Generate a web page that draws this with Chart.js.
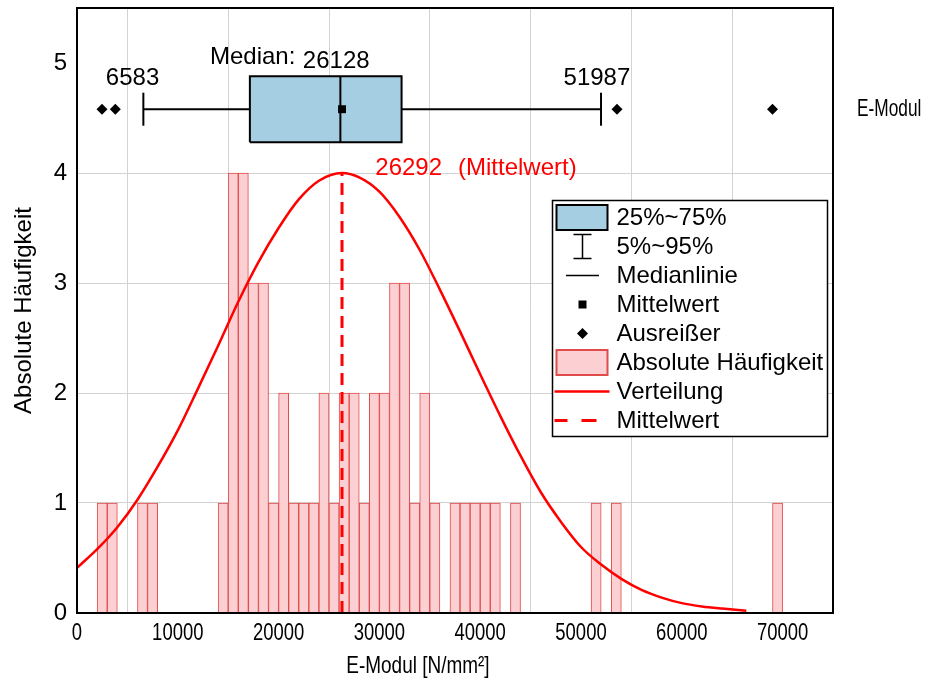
<!DOCTYPE html>
<html>
<head>
<meta charset="utf-8">
<script src="https://cdn.jsdelivr.net/npm/chart.js@4.4.1/dist/chart.umd.min.js"></script>
<style>
  html, body { margin: 0; padding: 0; background: #fff; }
</style>
</head>
<body>
<canvas id="chart" width="948" height="691"></canvas>
<script>
'use strict';

// histogram, 1000 N/mm² wide bins (left edge + count)
const binWidth = 1000;
const binStart = [2000, 3000, 6000, 7000,
  14000, 15000, 16000, 17000, 18000, 19000, 20000, 21000, 22000, 23000, 24000,
  25000, 26000, 27000, 28000, 29000, 30000, 31000, 32000, 33000, 34000, 35000,
  37000, 38000, 39000, 40000, 41000, 43000, 51000, 53000, 69000];
const binCount = [1, 1, 1, 1,
  1, 4, 4, 3, 3, 1, 2, 1, 1, 1, 2,
  1, 2, 2, 1, 2, 2, 3, 3, 1, 2, 1,
  1, 1, 1, 1, 1, 1, 1, 1, 1];

// fitted distribution
const curveX = [0, 2000, 4000, 6000, 8000, 10000, 12000, 14000, 16000, 18000, 20000,
  22000, 24000, 26292, 28000, 30000, 32000, 34000, 36000, 38000, 40000, 42000,
  44000, 46000, 48000, 50000, 52000, 54000, 56000, 58000, 60000, 62000, 64000, 66400];
const curveY = [0.41, 0.58, 0.78, 1.03, 1.33, 1.66, 2.04, 2.43, 2.83, 3.19, 3.50,
  3.76, 3.93, 4.00, 3.96, 3.83, 3.60, 3.30, 2.94, 2.56, 2.17, 1.79,
  1.43, 1.10, 0.83, 0.60, 0.44, 0.31, 0.21, 0.14, 0.09, 0.06, 0.04, 0.02];

// box plot of E-Modul
const boxRow = 4.58;
const boxHalf = 0.3;
const capHalf = 0.15;
const q1 = 17150;
const q3 = 32200;
const median = 26128;
const mean = 26292;
const whiskerLow = 6583;
const whiskerHigh = 51987;
const outliers = [2480, 3800, 53570, 69000];

const xTicks = [0, 10000, 20000, 30000, 40000, 50000, 60000, 70000];
const yTicks = [0, 1, 2, 3, 4, 5];

const legendLabels = ['25%~75%', '5%~95%', 'Medianlinie', 'Mittelwert', 'Ausreißer',
  'Absolute Häufigkeit', 'Verteilung', 'Mittelwert'];

const FONT = '"Liberation Sans", Arial, sans-serif';
const BLUE = '#a6cee3';
const PINK = '#fccfd2';
const PINK_EDGE = '#e04b4b';
const RED = '#ff0000';

const seg = (x1, y1, x2, y2) => [{x: x1, y: y1}, {x: x2, y: y2}];
const blackLine = (data, width) => ({
  type: 'line', data, borderColor: '#000', borderWidth: width || 2,
  pointRadius: 0, fill: false
});

const bars = binStart.map((s, i) => ({x: s + binWidth / 2, y: binCount[i]}));
const curve = curveX.map((x, i) => ({x, y: curveY[i]}));

const datasets = [
  {
    type: 'scatter', data: [{x: mean, y: boxRow}], pointStyle: 'rect',
    pointRadius: 5.6, backgroundColor: '#000', borderColor: '#000', borderWidth: 0
  },
  {
    type: 'scatter', data: outliers.map(x => ({x, y: boxRow})), pointStyle: 'rectRot',
    pointRadius: 5.5, backgroundColor: '#000', borderColor: '#000', borderWidth: 0
  },
  blackLine(seg(median, boxRow - boxHalf, median, boxRow + boxHalf)),
  blackLine([
    {x: q1, y: boxRow - boxHalf}, {x: q1, y: boxRow + boxHalf},
    {x: q3, y: boxRow + boxHalf}, {x: q3, y: boxRow - boxHalf},
    {x: q1, y: boxRow - boxHalf}
  ]),
  {
    type: 'line', data: seg(q1, boxRow + boxHalf, q3, boxRow + boxHalf),
    borderWidth: 0, pointRadius: 0, backgroundColor: BLUE,
    fill: {value: boxRow - boxHalf}
  },
  blackLine(seg(whiskerLow, boxRow, q1, boxRow)),
  blackLine(seg(q3, boxRow, whiskerHigh, boxRow)),
  blackLine(seg(whiskerLow, boxRow - capHalf, whiskerLow, boxRow + capHalf)),
  blackLine(seg(whiskerHigh, boxRow - capHalf, whiskerHigh, boxRow + capHalf)),
  {
    type: 'line', data: seg(mean, 0, mean, 4), borderColor: RED, borderWidth: 3,
    borderDash: [12, 7], pointRadius: 0, fill: false
  },
  {
    type: 'line', data: curve, borderColor: RED, borderWidth: 2.5,
    cubicInterpolationMode: 'monotone', pointRadius: 0, fill: false
  },
  {
    type: 'bar', data: bars, backgroundColor: PINK, borderColor: PINK_EDGE,
    borderWidth: 1, barPercentage: 1, categoryPercentage: 1
  }
];

// text squeezed horizontally (condensed look of the axis lettering)
function narrowText(ctx, text, cx, cy, squeeze) {
  ctx.save();
  ctx.translate(cx, cy);
  ctx.scale(squeeze, 1);
  ctx.fillText(text, 0, 0);
  ctx.restore();
}

// frame, text labels and legend
const decorations = {
  id: 'decorations',
  afterDatasetsDraw(chart) {
    const {ctx, chartArea: a, scales: {x, y}} = chart;
    ctx.save();

    ctx.strokeStyle = '#000';
    ctx.lineWidth = 2;
    ctx.strokeRect(a.left, a.top, a.right - a.left, a.bottom - a.top);

    ctx.font = '24px ' + FONT;
    ctx.fillStyle = '#000';
    ctx.textBaseline = 'alphabetic';
    ctx.textAlign = 'left';
    const capTop = y.getPixelForValue(boxRow + capHalf);
    const boxTop = y.getPixelForValue(boxRow + boxHalf);
    ctx.fillText(String(whiskerLow), x.getPixelForValue(whiskerLow) - 37.5, capTop - 7.7);
    ctx.fillText(String(whiskerHigh), x.getPixelForValue(whiskerHigh) - 37.5, capTop - 7.7);
    const medLeft = x.getPixelForValue(median) - 37.5;
    ctx.fillText(String(median), medLeft, boxTop - 8.4);
    ctx.textAlign = 'right';
    ctx.fillText('Median:', medLeft - 7.5, boxTop - 12.7);

    ctx.textAlign = 'left';
    ctx.fillStyle = RED;
    const meanTop = y.getPixelForValue(4);
    ctx.fillText(String(mean), x.getPixelForValue(mean) + 33.3, meanTop + 1.7);
    ctx.fillText('(Mittelwert)', x.getPixelForValue(mean) + 116, meanTop + 1.7);

    ctx.fillStyle = '#000';
    ctx.textBaseline = 'middle';
    narrowText(ctx, 'E-Modul', a.right + 24, y.getPixelForValue(boxRow), 0.72);

    // x tick labels and axis title
    ctx.textAlign = 'center';
    xTicks.forEach(v => narrowText(ctx, String(v), x.getPixelForValue(v), 633, 0.77));
    narrowText(ctx, 'E-Modul [N/mm²]', a.left + (a.right - a.left) * 0.451, 666, 0.79);

    // legend box
    const lx = a.right - 280.5, ly = 200.5, lw = 275, lh = 236;
    ctx.fillStyle = '#fff';
    ctx.fillRect(lx, ly, lw, lh);
    ctx.lineWidth = 1.5;
    ctx.strokeStyle = '#000';
    ctx.strokeRect(lx, ly, lw, lh);

    const sx = lx + 30;
    const rowY = i => ly + 17 + i * 29;
    const textX = lx + 64;

    ctx.lineWidth = 2;
    ctx.fillStyle = BLUE;
    ctx.fillRect(lx + 4, rowY(0) - 12.5, 51, 25);
    ctx.strokeRect(lx + 4, rowY(0) - 12.5, 51, 25);

    ctx.lineWidth = 1.5;
    ctx.beginPath();
    ctx.moveTo(sx, rowY(1) - 12); ctx.lineTo(sx, rowY(1) + 12);
    ctx.moveTo(sx - 9, rowY(1) - 12); ctx.lineTo(sx + 9, rowY(1) - 12);
    ctx.moveTo(sx - 9, rowY(1) + 12); ctx.lineTo(sx + 9, rowY(1) + 12);
    ctx.moveTo(sx - 16.5, rowY(2)); ctx.lineTo(sx + 16.5, rowY(2));
    ctx.stroke();

    ctx.fillStyle = '#000';
    ctx.fillRect(sx - 4, rowY(3) - 4, 8, 8);
    ctx.beginPath();
    ctx.moveTo(sx, rowY(4) - 5.5); ctx.lineTo(sx + 5.5, rowY(4));
    ctx.lineTo(sx, rowY(4) + 5.5); ctx.lineTo(sx - 5.5, rowY(4));
    ctx.closePath();
    ctx.fill();

    ctx.lineWidth = 2;
    ctx.fillStyle = PINK;
    ctx.strokeStyle = PINK_EDGE;
    ctx.fillRect(lx + 4, rowY(5) - 12.5, 51, 25);
    ctx.strokeRect(lx + 4, rowY(5) - 12.5, 51, 25);

    ctx.strokeStyle = RED;
    ctx.lineWidth = 2.5;
    ctx.beginPath();
    ctx.moveTo(lx + 2, rowY(6)); ctx.lineTo(lx + 57, rowY(6));
    ctx.stroke();
    ctx.lineWidth = 3;
    ctx.beginPath();
    ctx.moveTo(lx + 2, rowY(7)); ctx.lineTo(lx + 15, rowY(7));
    ctx.moveTo(lx + 29, rowY(7)); ctx.lineTo(lx + 44, rowY(7));
    ctx.stroke();

    ctx.fillStyle = '#000';
    ctx.font = '24px ' + FONT;
    ctx.textAlign = 'left';
    ctx.textBaseline = 'middle';
    legendLabels.forEach((t, i) => ctx.fillText(t, textX, rowY(i) + 1));

    ctx.restore();
  }
};

new Chart(document.getElementById('chart'), {
  type: 'bar',
  data: {datasets},
  options: {
    responsive: false,
    animation: false,
    devicePixelRatio: 1,
    layout: {padding: {top: 8, right: 115, bottom: 0, left: 0}},
    plugins: {legend: {display: false}, tooltip: {enabled: false}},
    scales: {
      x: {
        type: 'linear', min: 0, max: 75000, offset: false,
        afterFit: s => { s.height = 78; s.paddingLeft = 0; s.paddingRight = 0; },
        afterBuildTicks: s => { s.ticks = xTicks.map(v => ({value: v})); },
        ticks: {display: false},
        grid: {color: '#d3d3d3', lineWidth: 1, drawTicks: false},
        border: {display: false}
      },
      y: {
        type: 'linear', min: 0, max: 5.5,
        afterFit: s => { s.width = 77; s.paddingTop = 0; s.paddingBottom = 0; },
        afterBuildTicks: s => { s.ticks = yTicks.map(v => ({value: v})); },
        ticks: {color: '#000', padding: 10, font: {family: FONT, size: 24}},
        grid: {
          color: c => (c.tick && c.tick.value === 5 ? 'rgba(0,0,0,0)' : '#d3d3d3'),
          lineWidth: 1, drawTicks: false
        },
        border: {display: false},
        title: {
          display: true, text: 'Absolute Häufigkeit', color: '#000',
          font: {family: FONT, size: 24}, padding: {top: 10, bottom: 0}
        }
      }
    }
  },
  plugins: [decorations]
});
</script>
</body>
</html>
